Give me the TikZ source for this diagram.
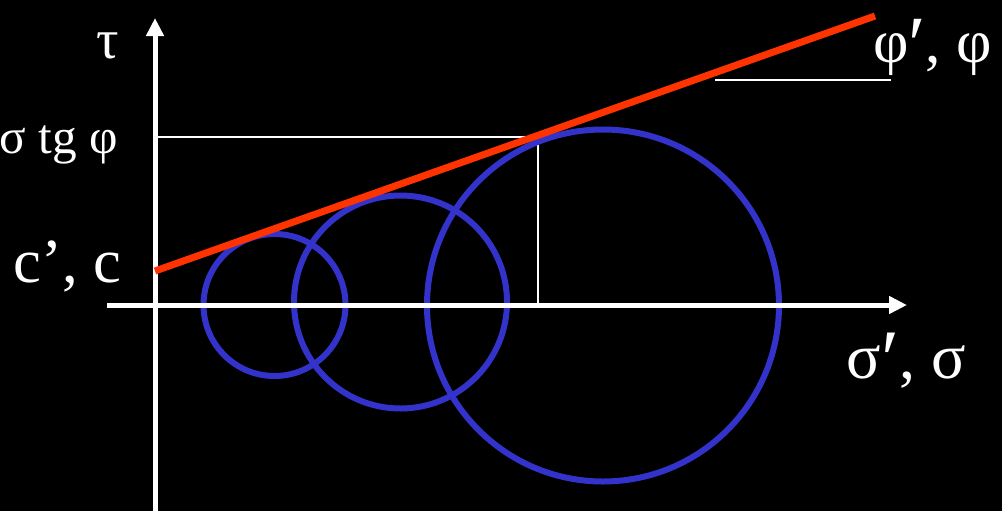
\documentclass[tikz,border=0pt]{standalone}
\usepackage{fontspec}
\usepackage{graphicx}
\setmainfont{Liberation Serif}
\usetikzlibrary{arrows.meta}
\definecolor{circblue}{RGB}{51,51,204}
\definecolor{envred}{RGB}{255,51,0}
\newcommand{\bigprime}{\raisebox{-0.15em}{\scalebox{1.3}{′}}}
\begin{document}
\begin{tikzpicture}[x=0.75pt,y=-0.75pt,
  axis/.style={white,line width=3.75pt,-{Triangle[length=13.5pt,width=12.75pt]}},
  thin/.style={white,line width=1.5pt},
  mohr/.style={circblue,line width=4.5pt},
  envelope/.style={envred,line width=5.25pt},
  lbl/.style={white,inner sep=0pt,anchor=base}]
\fill[black] (0,0) rectangle (1002,511);
\useasboundingbox (0,0) rectangle (1002,511);
% coordinates
\coordinate (xs) at (107,305);
\coordinate (xe) at (907,305);
\coordinate (ys) at (155,511);
\coordinate (ye) at (155,18);
\coordinate (hl0) at (157,137);
\coordinate (hl1) at (538,137);
\coordinate (vl1) at (538,304);
\coordinate (r0) at (155,271);
\coordinate (r1) at (875,16);
\coordinate (ang0) at (715,80);
\coordinate (ang1) at (891,80);
\coordinate (c1) at (274.5,305);
\coordinate (c2) at (400.5,302);
\coordinate (c3) at (603,305.5);
% thin construction lines
\draw[thin] (hl0) -- (hl1) -- (vl1);
\draw[thin] (ang0) -- (ang1);
% circles
\draw[mohr] (c1) circle[radius=71];
\draw[mohr] (c2) circle[radius=106.5];
\draw[mohr] (c3) circle[radius=176];
% axes
\draw[axis] (xs) -- (xe);
\draw[axis] (ys) -- (ye);
% envelope
\draw[envelope] (r0) -- (r1);
% labels
\node[lbl,font=\fontsize{42}{42}\selectfont] (tau) at (107.5,58) {τ};
\node[lbl,font=\fontsize{37}{37}\selectfont] (stg) at (58.5,153) {σ tg φ};
\node[lbl,font=\fontsize{47}{47}\selectfont] (cc) at (67.5,282) {c’, c};
\node[lbl,font=\fontsize{46}{46}\selectfont] (phi) at (932.5,62) {φ\bigprime, φ};
\node[lbl,font=\fontsize{48}{48}\selectfont] (sig) at (906.5,378) {σ\bigprime, σ};
\end{tikzpicture}
\end{document}
